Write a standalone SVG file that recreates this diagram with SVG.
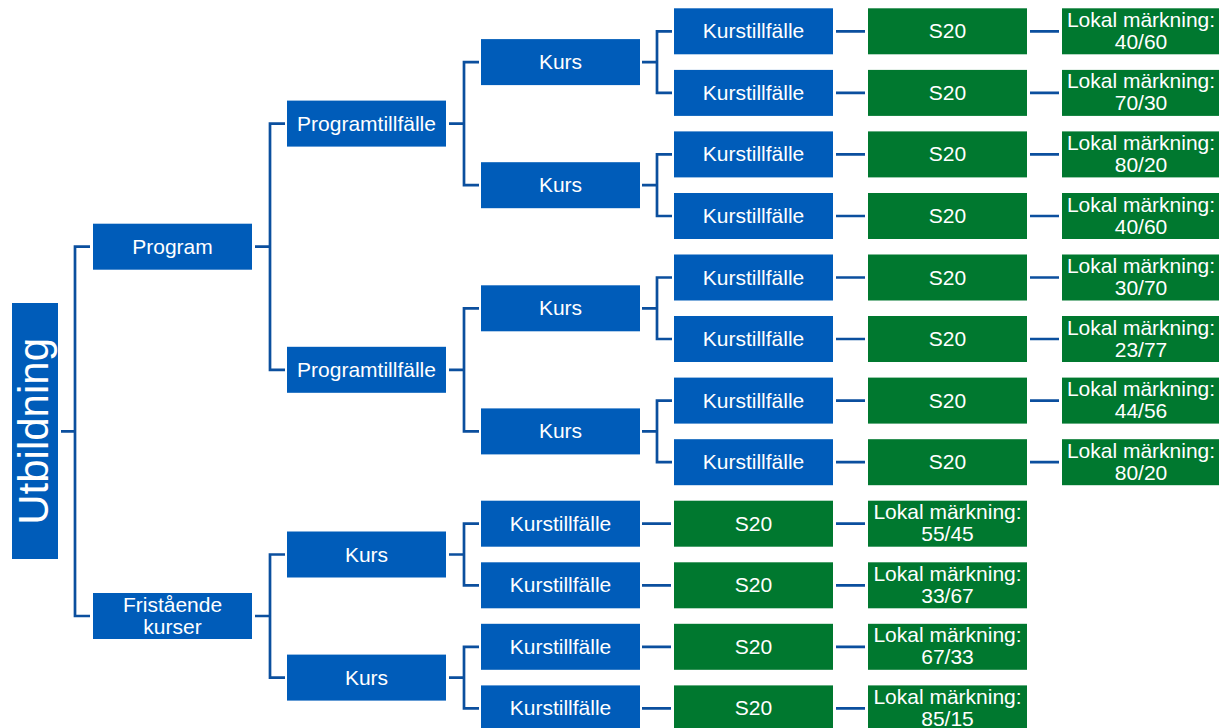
<svg xmlns="http://www.w3.org/2000/svg" width="1219" height="728" viewBox="0 0 1219 728">
<style>
.b{fill:#005cb9}
.g{fill:#00782f}
.t{font-family:"Liberation Sans",Arial,sans-serif;font-size:21px;fill:#ffffff;text-anchor:middle}
.c{fill:none;stroke:#0b4f9e;stroke-width:2.7}
</style>
<rect width="1219" height="728" fill="#ffffff"/>
<g id="connectors" class="c">
<path d="M61,431.4 H75 V246.7 H90 M75,431.4 V616 H90"/>
<path d="M255,246.7 H270 V123.6 H285 M270,246.7 V369.8 H285"/>
<path d="M255,616 H270 V554.5 H285 M270,616 V677.6 H285"/>
<path d="M449,123.6 H464 V62.1 H479 M464,123.6 V185.2 H479"/>
<path d="M449,369.8 H464 V308.3 H479 M464,369.8 V431.4 H479"/>
<path d="M449,554.5 H464 V523.7 H479 M464,554.5 V585.3 H479"/>
<path d="M449,677.6 H464 V646.8 H479 M464,677.6 V708.4 H479"/>
<path d="M642,62.1 H657 V31.3 H672 M657,62.1 V92.9 H672"/>
<path d="M642,185.2 H657 V154.4 H672 M657,185.2 V216 H672"/>
<path d="M642,308.3 H657 V277.5 H672 M657,308.3 V339 H672"/>
<path d="M642,431.4 H657 V400.6 H672 M657,431.4 V462.2 H672"/>
<path d="M836,31.3 H865 M836,92.9 H865 M836,154.4 H865 M836,216 H865 M836,277.5 H865 M836,339 H865 M836,400.6 H865 M836,462.2 H865"/>
<path d="M1030,31.3 H1059 M1030,92.9 H1059 M1030,154.4 H1059 M1030,216 H1059 M1030,277.5 H1059 M1030,339 H1059 M1030,400.6 H1059 M1030,462.2 H1059"/>
<path d="M642,523.7 H671 M642,585.3 H671 M642,646.8 H671 M642,708.4 H671"/>
<path d="M836,523.7 H865 M836,585.3 H865 M836,646.8 H865 M836,708.4 H865"/>
</g>
<g id="utbildning"><rect class="b" x="12" y="303" width="46" height="256"/><text class="t" style="font-size:42px" transform="translate(35,431.4) rotate(-90)" x="0" y="13">Utbildning</text></g>
<g id="program"><rect class="b" x="93" y="223.7" width="159" height="46"/><text class="t" x="172.5" y="253.7">Program</text></g>
<g id="fristaende"><rect class="b" x="93" y="593" width="159" height="46"/><text class="t" x="172.5" y="611.5">Fristående</text><text class="t" x="172.5" y="633.5">kurser</text></g>
<g id="pt1"><rect class="b" x="287" y="100.6" width="159" height="46"/><text class="t" x="366.5" y="130.6">Programtillfälle</text></g>
<g id="pt2"><rect class="b" x="287" y="346.8" width="159" height="46"/><text class="t" x="366.5" y="376.8">Programtillfälle</text></g>
<g id="fk1"><rect class="b" x="287" y="531.5" width="159" height="46"/><text class="t" x="366.5" y="561.5">Kurs</text></g>
<g id="fk2"><rect class="b" x="287" y="654.6" width="159" height="46"/><text class="t" x="366.5" y="684.6">Kurs</text></g>
<g id="k1"><rect class="b" x="481" y="39.1" width="159" height="46"/><text class="t" x="560.5" y="69.1">Kurs</text></g>
<g id="k2"><rect class="b" x="481" y="162.2" width="159" height="46"/><text class="t" x="560.5" y="192.2">Kurs</text></g>
<g id="k3"><rect class="b" x="481" y="285.3" width="159" height="46"/><text class="t" x="560.5" y="315.3">Kurs</text></g>
<g id="k4"><rect class="b" x="481" y="408.4" width="159" height="46"/><text class="t" x="560.5" y="438.4">Kurs</text></g>
<g id="fkt1"><rect class="b" x="481" y="500.7" width="159" height="46"/><text class="t" x="560.5" y="530.7">Kurstillfälle</text></g>
<g id="fkt2"><rect class="b" x="481" y="562.3" width="159" height="46"/><text class="t" x="560.5" y="592.3">Kurstillfälle</text></g>
<g id="fkt3"><rect class="b" x="481" y="623.8" width="159" height="46"/><text class="t" x="560.5" y="653.8">Kurstillfälle</text></g>
<g id="fkt4"><rect class="b" x="481" y="685.4" width="159" height="46"/><text class="t" x="560.5" y="715.4">Kurstillfälle</text></g>
<g id="kt1"><rect class="b" x="674" y="8.3" width="159" height="46"/><text class="t" x="753.5" y="38.3">Kurstillfälle</text></g>
<g id="kt2"><rect class="b" x="674" y="69.9" width="159" height="46"/><text class="t" x="753.5" y="99.9">Kurstillfälle</text></g>
<g id="kt3"><rect class="b" x="674" y="131.4" width="159" height="46"/><text class="t" x="753.5" y="161.4">Kurstillfälle</text></g>
<g id="kt4"><rect class="b" x="674" y="193" width="159" height="46"/><text class="t" x="753.5" y="223">Kurstillfälle</text></g>
<g id="kt5"><rect class="b" x="674" y="254.5" width="159" height="46"/><text class="t" x="753.5" y="284.5">Kurstillfälle</text></g>
<g id="kt6"><rect class="b" x="674" y="316" width="159" height="46"/><text class="t" x="753.5" y="346">Kurstillfälle</text></g>
<g id="kt7"><rect class="b" x="674" y="377.6" width="159" height="46"/><text class="t" x="753.5" y="407.6">Kurstillfälle</text></g>
<g id="kt8"><rect class="b" x="674" y="439.2" width="159" height="46"/><text class="t" x="753.5" y="469.2">Kurstillfälle</text></g>
<g id="fs1"><rect class="g" x="674" y="500.7" width="159" height="46"/><text class="t" x="753.5" y="530.7">S20</text></g>
<g id="fs2"><rect class="g" x="674" y="562.3" width="159" height="46"/><text class="t" x="753.5" y="592.3">S20</text></g>
<g id="fs3"><rect class="g" x="674" y="623.8" width="159" height="46"/><text class="t" x="753.5" y="653.8">S20</text></g>
<g id="fs4"><rect class="g" x="674" y="685.4" width="159" height="46"/><text class="t" x="753.5" y="715.4">S20</text></g>
<g id="s1"><rect class="g" x="868" y="8.3" width="159" height="46"/><text class="t" x="947.5" y="38.3">S20</text></g>
<g id="s2"><rect class="g" x="868" y="69.9" width="159" height="46"/><text class="t" x="947.5" y="99.9">S20</text></g>
<g id="s3"><rect class="g" x="868" y="131.4" width="159" height="46"/><text class="t" x="947.5" y="161.4">S20</text></g>
<g id="s4"><rect class="g" x="868" y="193" width="159" height="46"/><text class="t" x="947.5" y="223">S20</text></g>
<g id="s5"><rect class="g" x="868" y="254.5" width="159" height="46"/><text class="t" x="947.5" y="284.5">S20</text></g>
<g id="s6"><rect class="g" x="868" y="316" width="159" height="46"/><text class="t" x="947.5" y="346">S20</text></g>
<g id="s7"><rect class="g" x="868" y="377.6" width="159" height="46"/><text class="t" x="947.5" y="407.6">S20</text></g>
<g id="s8"><rect class="g" x="868" y="439.2" width="159" height="46"/><text class="t" x="947.5" y="469.2">S20</text></g>
<g id="fl1"><rect class="g" x="868" y="500.7" width="159" height="46"/><text class="t" x="947.5" y="519.2">Lokal märkning:</text><text class="t" x="947.5" y="541.2">55/45</text></g>
<g id="fl2"><rect class="g" x="868" y="562.3" width="159" height="46"/><text class="t" x="947.5" y="580.8">Lokal märkning:</text><text class="t" x="947.5" y="602.8">33/67</text></g>
<g id="fl3"><rect class="g" x="868" y="623.8" width="159" height="46"/><text class="t" x="947.5" y="642.3">Lokal märkning:</text><text class="t" x="947.5" y="664.3">67/33</text></g>
<g id="fl4"><rect class="g" x="868" y="685.4" width="159" height="46"/><text class="t" x="947.5" y="703.9">Lokal märkning:</text><text class="t" x="947.5" y="725.9">85/15</text></g>
<g id="l1"><rect class="g" x="1062" y="8.3" width="159" height="46"/><text class="t" x="1141" y="26.8">Lokal märkning:</text><text class="t" x="1141" y="48.8">40/60</text></g>
<g id="l2"><rect class="g" x="1062" y="69.9" width="159" height="46"/><text class="t" x="1141" y="88.4">Lokal märkning:</text><text class="t" x="1141" y="110.4">70/30</text></g>
<g id="l3"><rect class="g" x="1062" y="131.4" width="159" height="46"/><text class="t" x="1141" y="149.9">Lokal märkning:</text><text class="t" x="1141" y="171.9">80/20</text></g>
<g id="l4"><rect class="g" x="1062" y="193" width="159" height="46"/><text class="t" x="1141" y="211.5">Lokal märkning:</text><text class="t" x="1141" y="233.5">40/60</text></g>
<g id="l5"><rect class="g" x="1062" y="254.5" width="159" height="46"/><text class="t" x="1141" y="273">Lokal märkning:</text><text class="t" x="1141" y="295">30/70</text></g>
<g id="l6"><rect class="g" x="1062" y="316" width="159" height="46"/><text class="t" x="1141" y="334.5">Lokal märkning:</text><text class="t" x="1141" y="356.5">23/77</text></g>
<g id="l7"><rect class="g" x="1062" y="377.6" width="159" height="46"/><text class="t" x="1141" y="396.1">Lokal märkning:</text><text class="t" x="1141" y="418.1">44/56</text></g>
<g id="l8"><rect class="g" x="1062" y="439.2" width="159" height="46"/><text class="t" x="1141" y="457.7">Lokal märkning:</text><text class="t" x="1141" y="479.7">80/20</text></g>
</svg>
